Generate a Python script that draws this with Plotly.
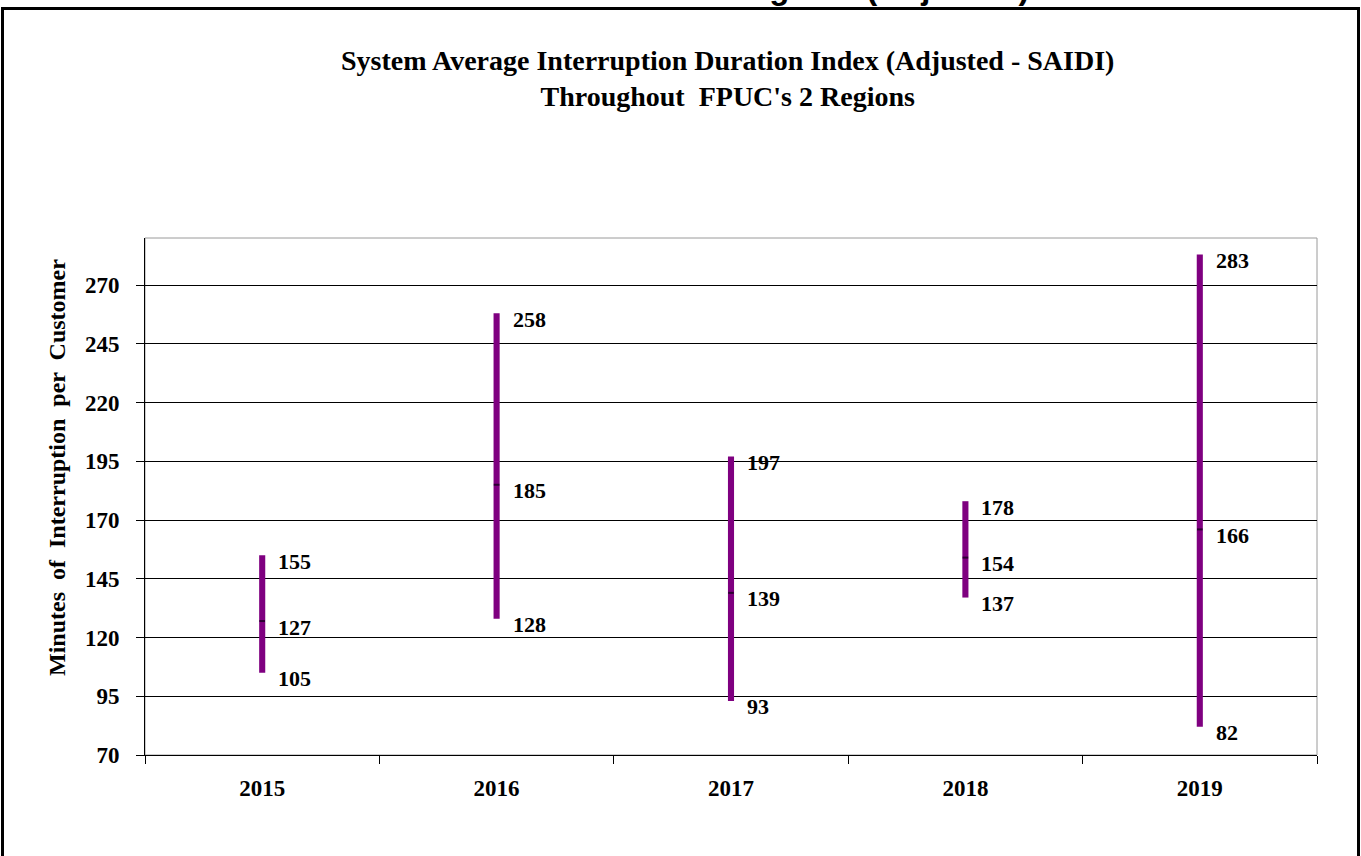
import plotly.graph_objects as go

years = [2015, 2016, 2017, 2018, 2019]
high = [155, 258, 197, 178, 283]
avg = [127, 185, 139, 154, 166]
low = [105, 128, 93, 137, 82]

y_ticks = [70, 95, 120, 145, 170, 195, 220, 245, 270]

W, H = 1361, 856
L, R, T, B = 145, 44, 238, 101
PW, PH = W - L - R, H - T - B


def px_x(p):
    return (p - L) / PW


def px_y(p):
    return (H - B - p) / PH


serif = "Liberation Serif, Times New Roman, serif"

fig = go.Figure()

fig.add_trace(go.Bar(
    x=years,
    y=[h - l for h, l in zip(high, low)],
    base=low,
    width=0.026,
    marker=dict(color="#7f0080", line=dict(width=0)),
    hoverinfo="skip",
))

fig.add_trace(go.Scatter(
    x=years,
    y=avg,
    mode="markers",
    marker=dict(symbol="line-ew", size=4, line=dict(width=2, color="#2a0030")),
    hoverinfo="skip",
))

# value labels
for yr, h, a, l in zip(years, high, avg, low):
    for v in (h, a, l):
        fig.add_annotation(
            x=yr, y=v, text=str(v), showarrow=False,
            xanchor="left", yanchor="middle", xshift=14, yshift=-6,
            font=dict(family=serif, size=22, color="black", weight="bold"),
        )

fig.update_layout(
    width=W, height=H,
    margin=dict(l=L, r=R, t=T, b=B),
    paper_bgcolor="white",
    plot_bgcolor="white",
    showlegend=False,
    font=dict(family=serif, color="black"),
)

fig.update_yaxes(
    range=[70, 290],
    tickvals=y_ticks,
    showgrid=True, gridcolor="black", gridwidth=1,
    showline=True, linecolor="black", linewidth=1,
    ticks="outside", ticklen=8, tickcolor="black",
    ticklabelstandoff=12,
    tickfont=dict(family=serif, size=23, color="black", weight="bold"),
    zeroline=False,
)
fig.update_xaxes(
    type="linear",
    range=[years[0] - 0.5, years[-1] + 0.5],
    tickvals=years,
    ticktext=[str(y) for y in years],
    ticks="",
    showline=True, linecolor="black", linewidth=1,
    tickfont=dict(family=serif, size=23, color="black", weight="bold"),
    ticklabelstandoff=12,
    minor=dict(tickvals=[y - 0.5 for y in years] + [years[-1] + 0.5],
               ticks="outside", ticklen=8, tickcolor="black", showgrid=False),
    showgrid=False,
    zeroline=False,
)

# plot frame (grey top/right edges)
fig.add_shape(type="rect", xref="paper", yref="paper", x0=0, x1=1, y0=0, y1=1,
              line=dict(color="#9a9a9a", width=1), layer="below")

# outer chart border
fig.add_shape(type="rect", xref="paper", yref="paper",
              x0=px_x(2.5), x1=px_x(1358.5), y0=px_y(880), y1=px_y(8.5),
              line=dict(color="black", width=3), layer="above")

fig.add_annotation(
    xref="paper", yref="paper", x=px_x(727), y=px_y(78),
    text="System Average Interruption Duration Index (Adjusted - SAIDI)<br>Throughout  FPUC's 2 Regions",
    showarrow=False, xanchor="center", yanchor="middle",
    font=dict(family=serif, size=28, color="black", weight="bold"),
)

fig.add_annotation(
    xref="paper", yref="paper", x=px_x(57), y=px_y(468),
    text="Minutes  of  Interruption  per  Customer", textangle=-90,
    showarrow=False, xanchor="center", yanchor="middle",
    font=dict(family=serif, size=24, color="black", weight="bold"),
)

# page heading above the chart, mostly cut off at the top edge
fig.add_annotation(
    xref="paper", yref="paper", x=px_x(697), y=px_y(8),
    text="SAIDI Results for Both Regions (Adjusted)",
    showarrow=False, xanchor="center", yanchor="bottom",
    font=dict(family="Liberation Sans, Arial, sans-serif", size=33, color="black", weight="bold"),
)

fig.write_html("out.html", config={"displayModeBar": False},
               post_script="document.body.style.margin='0';")
